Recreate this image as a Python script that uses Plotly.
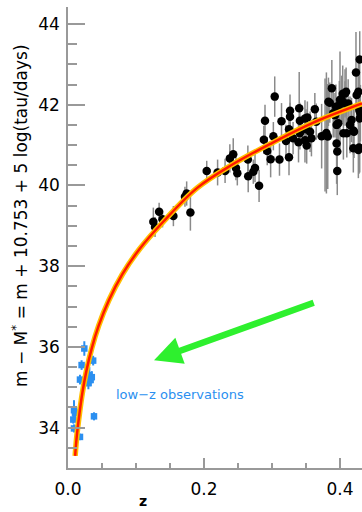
import plotly.graph_objects as go

# ---- data ----
hi_z = [0.1255, 0.128, 0.134, 0.139, 0.155, 0.172, 0.1745, 0.180, 0.204, 0.220,
        0.231, 0.238, 0.243, 0.247, 0.249, 0.2645, 0.265, 0.2725, 0.275, 0.281,
        0.288, 0.2897, 0.293, 0.298, 0.302, 0.304, 0.311, 0.314, 0.3206, 0.325,
        0.3265, 0.325, 0.3265, 0.331, 0.339, 0.340, 0.341, 0.341, 0.3485, 0.3485,
        0.350, 0.351, 0.352, 0.356, 0.358, 0.363, 0.365, 0.373, 0.378, 0.380,
        0.382, 0.383, 0.385, 0.388, 0.390, 0.3926, 0.394, 0.395, 0.395, 0.396,
        0.396, 0.3975, 0.399, 0.400, 0.4025, 0.404, 0.405, 0.4074, 0.4074, 0.409,
        0.410, 0.412, 0.4147, 0.417, 0.4196, 0.4196, 0.4206, 0.4235, 0.4245, 0.427,
        0.427, 0.428, 0.429, 0.429, 0.430, 0.429, 0.4285]
hi_mu = [39.10, 38.97, 39.35, 39.16, 39.24, 39.72, 39.80, 39.33, 40.36, 40.32,
         40.36, 40.67, 40.77, 40.43, 40.30, 40.64, 40.23, 40.34, 40.43, 39.99,
         41.13, 41.60, 40.85, 40.65, 41.22, 42.20, 40.64, 41.59, 41.10, 41.39,
         41.85, 40.70, 41.70, 41.17, 41.07, 41.91, 41.60, 41.29, 41.12, 41.66,
         41.39, 40.99, 41.68, 41.33, 41.17, 41.89, 41.58, 41.22, 41.25, 41.30,
         41.21, 42.07, 42.05, 42.41, 41.79, 41.74, 41.95, 41.50, 41.04, 40.84,
         40.36, 41.54, 41.99, 42.12, 42.12, 42.27, 41.29, 42.03, 42.28, 42.32,
         41.29, 42.03, 41.50, 41.62, 41.36, 40.92, 41.33, 42.80, 42.24, 40.88,
         42.32, 40.94, 43.12, 41.66, 41.79, 40.92, 41.87]
hi_err = [0.35, 0.25, 0.22, 0.20, 0.25, 0.25, 0.30, 0.45, 0.25, 0.32,
          0.30, 0.35, 0.40, 0.30, 0.30, 0.35, 0.40, 0.30, 0.35, 0.40,
          0.35, 0.40, 0.35, 0.45, 0.35, 0.50, 0.40, 0.45, 0.40, 0.35,
          0.40, 0.45, 0.35, 0.40, 0.50, 0.90, 0.45, 0.40, 0.55, 0.45,
          0.50, 0.45, 0.40, 0.50, 0.45, 0.40, 0.45, 0.80, 1.40, 1.50,
          1.30, 0.60, 0.50, 0.70, 0.60, 0.55, 0.55, 0.60, 1.00, 0.80,
          0.60, 0.50, 0.60, 1.20, 0.60, 0.70, 0.65, 0.55, 0.60, 0.60,
          0.60, 0.60, 0.70, 0.55, 0.60, 0.60, 0.65, 1.00, 0.60, 0.70,
          0.80, 0.65, 0.70, 0.80, 0.70, 0.60, 0.60]

low_z = [0.024, 0.020, 0.037, 0.0176, 0.0314, 0.0333, 0.030, 0.0088, 0.0103,
         0.0078, 0.0382, 0.0088, 0.0176, 0.035, 0.032]
low_mu = [35.96, 35.55, 35.66, 35.19, 35.30, 35.18, 35.10, 34.43, 34.37,
          34.20, 34.28, 33.98, 33.77, 35.25, 35.22]
low_err = [0.18, 0.12, 0.12, 0.12, 0.20, 0.15, 0.15, 0.25, 0.15,
           0.10, 0.10, 0.10, 0.08, 0.15, 0.15]

model_z = [0.0105, 0.013, 0.0165, 0.021, 0.027, 0.035, 0.045, 0.06, 0.08,
           0.105, 0.14, 0.19, 0.24, 0.30, 0.36, 0.4324]
model_mu = [33.30, 33.80, 34.30, 34.85, 35.40, 35.97, 36.52, 37.15, 37.80,
            38.42, 39.10, 39.94, 40.50, 41.05, 41.55, 42.03]

y_ticks = [34, 36, 38, 40, 42, 44]
x_ticks = [0.0, 0.2, 0.4]
x_ticktext = ["0.0", "0.2", "0.4"]

BLUE = "#2b8ff0"
GREEN = "#2ef02e"
FONT = "DejaVu Sans"

fig = go.Figure()

fig.add_trace(go.Scatter(
    x=hi_z, y=hi_mu, mode="markers",
    marker=dict(color="black", size=8.5, line=dict(width=0)),
    error_y=dict(type="data", array=hi_err, color="#8a8a8a", thickness=1.5, width=0),
    showlegend=False))

fig.add_trace(go.Scatter(
    x=low_z, y=low_mu, mode="markers",
    marker=dict(color=BLUE, size=6.5, symbol="square", line=dict(width=0)),
    error_y=dict(type="data", array=low_err, color=BLUE, thickness=2, width=0),
    showlegend=False))

fig.add_trace(go.Scatter(
    x=model_z, y=model_mu, mode="lines",
    line=dict(color="#ffc000", width=5.5, shape="spline", smoothing=1),
    showlegend=False, hoverinfo="skip"))
fig.add_trace(go.Scatter(
    x=model_z, y=model_mu, mode="lines",
    line=dict(color="#ff1800", width=2.5, shape="spline", smoothing=1),
    showlegend=False, hoverinfo="skip"))

fig.add_annotation(
    x=0.1265, y=35.67, ax=0.3657, ay=37.12, xref="x", yref="y",
    axref="x", ayref="y", text=" ", showarrow=True,
    arrowhead=2, arrowwidth=6.5, arrowsize=0.85, arrowcolor=GREEN)

fig.add_annotation(
    x=0.1647, y=34.81, xref="x", yref="y", text="low\u2212z observations",
    showarrow=False, font=dict(family=FONT, size=13, color=BLUE),
    xanchor="center", yanchor="middle")

fig.add_annotation(
    x=(20 - 68) / 294, y=(468 - 216) / 461, xref="paper", yref="paper",
    text="m \u2212 M<sup>*</sup> = m + 10.753 + 5 log(tau/days)",
    textangle=-90, showarrow=False,
    font=dict(family=FONT, size=17, color="black"),
    xanchor="center", yanchor="middle")

fig.add_annotation(
    x=(143 - 68) / 294, y=(468 - 511) / 461, xref="paper", yref="paper",
    text="<b>z</b>", showarrow=False,
    font=dict(family=FONT, size=14, color="black"),
    xanchor="center", yanchor="bottom")

fig.update_xaxes(
    range=[0, 294 / 680], showgrid=False, zeroline=False,
    showline=True, linecolor="#999999", linewidth=1.5, mirror=False,
    ticks="inside", ticklen=10, tickwidth=1.5, tickcolor="#999999",
    tickvals=x_ticks, ticktext=x_ticktext,
    tickfont=dict(family=FONT, size=17, color="black"),
    ticklabelstandoff=5,
    minor=dict(dtick=0.05, tick0=0, ticks="inside", ticklen=5,
               tickwidth=1.5, tickcolor="#999999", showgrid=False))

fig.update_yaxes(
    range=[33.0, 44.42], showgrid=False, zeroline=False,
    showline=True, linecolor="#999999", linewidth=1.5, mirror=False,
    ticks="inside", ticklen=17, tickwidth=1.5, tickcolor="#999999",
    tickvals=y_ticks,
    tickfont=dict(family=FONT, size=17, color="black"),
    ticklabelstandoff=3,
    minor=dict(dtick=0.5, tick0=33, ticks="inside", ticklen=9,
               tickwidth=1.5, tickcolor="#999999", showgrid=False))

fig.update_layout(
    width=362, height=512, autosize=False,
    margin=dict(l=68, r=0, t=7, b=44, pad=0),
    paper_bgcolor="white", plot_bgcolor="white",
    showlegend=False)

fig.write_html("out.html")
